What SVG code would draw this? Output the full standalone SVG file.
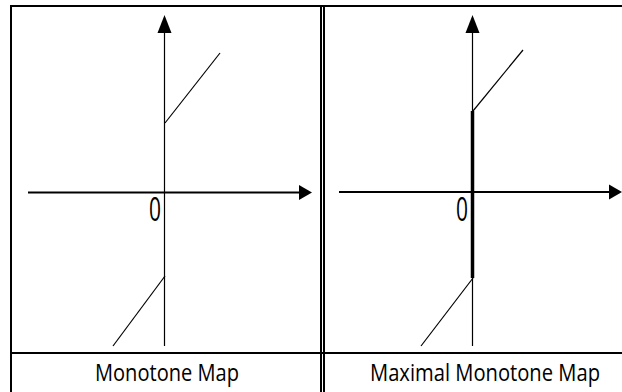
<svg xmlns="http://www.w3.org/2000/svg" width="622" height="392" viewBox="0 0 622 392">
<style>
.frame{stroke:#000;stroke-width:2;fill:none}
.axis{stroke:#000;stroke-width:1.2;fill:none}
.axisx{stroke:#000;stroke-width:2;fill:none}
.graph{stroke:#000;stroke-width:1.2;fill:none}
.thick{stroke:#000;stroke-width:3.5;fill:none}
.head{fill:#000}
.lbl{font-family:"Open Sans","Liberation Sans",sans-serif;font-size:24px;fill:#000}
.zero{font-family:"Open Sans","Liberation Sans",sans-serif;font-size:33px;fill:#000}
</style>
<g id="table">
<path class="frame" d="M11,392 V6 H622"/>
<path class="frame" d="M321,6 V392 M324,6 V392"/>
<path class="frame" d="M11,353 H622"/>
</g>
<g id="left-panel">
<path class="axis" d="M164.5,33 V346"/>
<polygon class="head" points="164.5,15 157.5,33 171.5,33"/>
<path class="axisx" d="M28,192.5 H300"/>
<polygon class="head" points="312,192.5 299,185 299,200"/>
<path class="graph" d="M165,123 L220,53"/>
<path class="graph" d="M165,276 L113,346"/>
<text class="zero" x="149" y="221" textLength="12" lengthAdjust="spacingAndGlyphs">0</text>
</g>
<g id="right-panel">
<path class="axis" d="M472.5,33 V346"/>
<polygon class="head" points="472.5,15 465.5,33 479.5,33"/>
<path class="axisx" d="M339,192 H610"/>
<polygon class="head" points="622,192 609,184.5 609,199.5"/>
<path class="graph" d="M473,111 L523,50"/>
<path class="graph" d="M473,278 L421,346"/>
<path class="thick" d="M472.5,111 V278"/>
<text class="zero" x="456" y="221" textLength="12" lengthAdjust="spacingAndGlyphs">0</text>
</g>
<g id="labels">
<text class="lbl" x="95" y="381" textLength="144" lengthAdjust="spacingAndGlyphs">Monotone Map</text>
<text class="lbl" x="370" y="381" textLength="230" lengthAdjust="spacingAndGlyphs">Maximal Monotone Map</text>
</g>
</svg>
